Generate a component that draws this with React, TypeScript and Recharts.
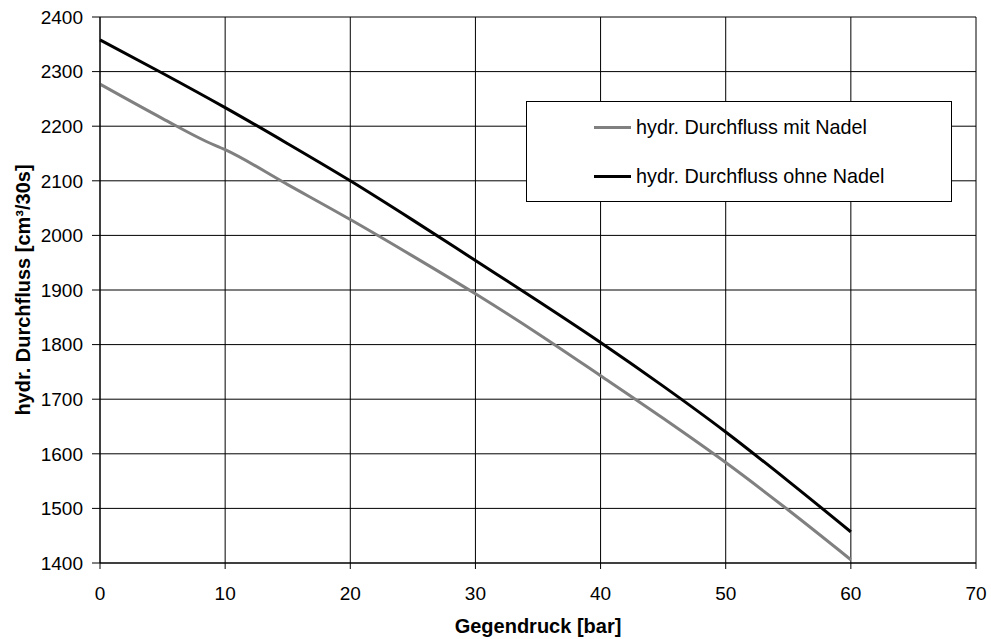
import React from 'react';
import { LineChart, Line, XAxis, YAxis, CartesianGrid, Legend, Label } from 'recharts';

const pressure = [0, 5, 8.5, 10, 15, 20, 25, 30, 35, 40, 45, 50, 55, 60];
const flowMitNadel = [2277, 2214, 2172, 2157, 2093, 2029, 1962, 1893, 1820, 1743, 1665, 1584, 1497, 1406];
const flowOhneNadel = [2358, 2297, null, 2234, 2168, 2100, 2028, 1954, 1880, 1804, 1724, 1640, 1550, 1457];
const xTicks = [0, 10, 20, 30, 40, 50, 60, 70];
const yTicks = [1400, 1500, 1600, 1700, 1800, 1900, 2000, 2100, 2200, 2300, 2400];
const seriesNames = ['hydr. Durchfluss mit Nadel', 'hydr. Durchfluss ohne Nadel'];
const xTitle = 'Gegendruck [bar]';
const yTitle = 'hydr. Durchfluss [cm³/30s]';

const rows = pressure.map((p, i) => ({ x: p, mit: flowMitNadel[i], ohne: flowOhneNadel[i] }));

const FONT = '"Liberation Sans", Arial, sans-serif';

const renderLegend = (props: any) => {
  const items = props.payload || [];
  return (
    <div
      style={{
        width: 426,
        height: 101,
        boxSizing: 'border-box',
        border: '1px solid #000',
        background: '#fff',
        position: 'relative',
        fontFamily: FONT,
        fontSize: 19.8,
        color: '#000',
      }}
    >
      {items.map((it: any, i: number) => (
        <div
          key={i}
          style={{
            position: 'absolute',
            left: 67,
            top: (i === 0 ? 25 : 74) - 12,
            height: 24,
            display: 'flex',
            alignItems: 'center',
            whiteSpace: 'nowrap',
          }}
        >
          <span style={{ display: 'inline-block', width: 37, height: 3, background: it.color, marginRight: 5 }} />
          <span>{it.value}</span>
        </div>
      ))}
    </div>
  );
};

export default function App() {
  return (
    <div style={{ position: 'absolute', left: 0, top: 0, width: 991, height: 639, background: '#fff' }}>
      <LineChart width={991} height={639} data={rows} margin={{ top: 17, right: 15, bottom: 0, left: 0 }}>
        <CartesianGrid stroke="#000" strokeWidth={1} horizontal vertical />
        <XAxis
          dataKey="x"
          type="number"
          domain={[0, 70]}
          ticks={xTicks}
          height={76}
          tickSize={6}
          tickMargin={18}
          stroke="#000"
          tick={{ fill: '#000', fontSize: 19, fontFamily: FONT }}
          tickLine={{ stroke: '#000' }}
          axisLine={{ stroke: '#000' }}
        >
          <Label
            value={xTitle}
            position="insideBottom"
            offset={6}
            style={{ fontFamily: FONT, fontSize: 20, fontWeight: 'bold', fill: '#000' }}
          />
        </XAxis>
        <YAxis
          type="number"
          domain={[1400, 2400]}
          ticks={yTicks}
          width={100}
          tickSize={8}
          tickMargin={9}
          stroke="#000"
          tick={{ fill: '#000', fontSize: 19, fontFamily: FONT }}
          tickLine={{ stroke: '#000' }}
          axisLine={{ stroke: '#000' }}
          interval={0}
        >
          <Label
            content={(p: any) => {
              const vb = p.viewBox || {};
              const cy = (vb.y || 0) + (vb.height || 0) / 2;
              const cx = 23;
              return (
                <text
                  x={cx}
                  y={cy}
                  transform={`rotate(-90 ${cx} ${cy})`}
                  textAnchor="middle"
                  dominantBaseline="central"
                  style={{ fontFamily: FONT, fontSize: 20, fontWeight: 'bold', fill: '#000' }}
                >
                  {yTitle}
                </text>
              );
            }}
          />
        </YAxis>
        <Legend
          layout="horizontal"
          verticalAlign="middle"
          align="center"
          content={renderLegend}
          wrapperStyle={{ left: 526, top: 101, width: 426, height: 101 }}
        />
        <Line
          type="monotone"
          dataKey="mit"
          name={seriesNames[0]}
          stroke="#808080"
          strokeWidth={3}
          dot={false}
          isAnimationActive={false}
        />
        <Line
          type="monotone"
          dataKey="ohne"
          name={seriesNames[1]}
          stroke="#000"
          strokeWidth={3}
          dot={false}
          connectNulls
          isAnimationActive={false}
        />
      </LineChart>
    </div>
  );
}
